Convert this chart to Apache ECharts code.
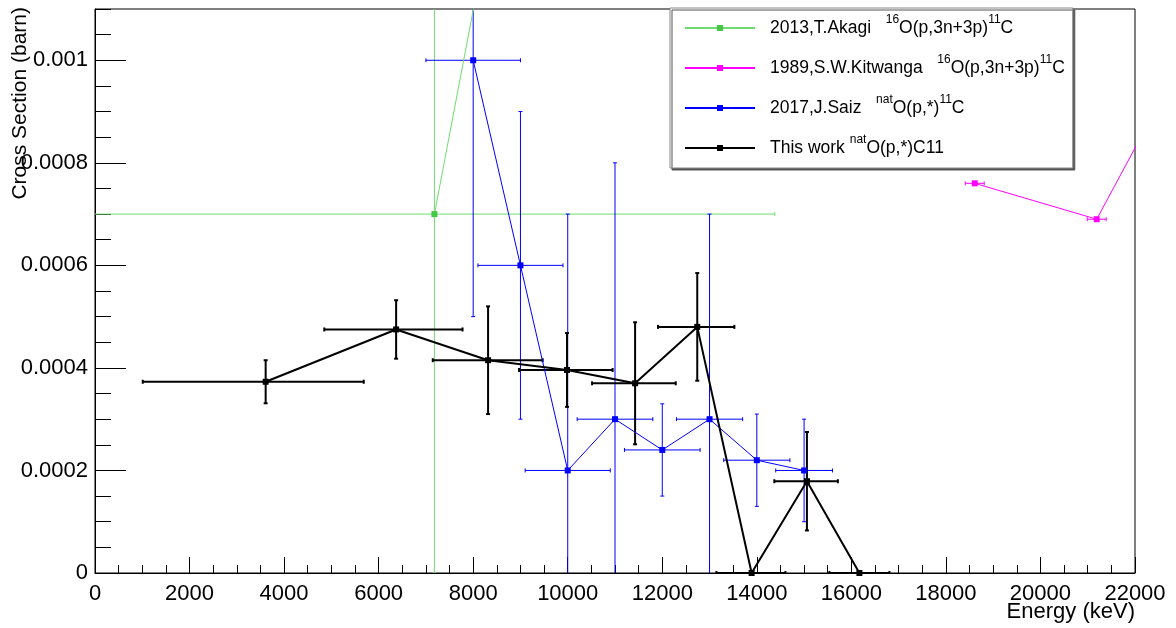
<!DOCTYPE html>
<html>
<head>
<meta charset="utf-8">
<script src="https://cdn.jsdelivr.net/npm/echarts@6/dist/echarts.min.js"></script>
<style>
  html, body { margin: 0; padding: 0; background: #fff; }
  #chart { width: 1176px; height: 628px; }
</style>
</head>
<body>
<div id="chart"></div>
<script>
// ---- Data ----
const akagiE       = [7180, 8500];
const akagiCS      = [0.0007, 0.00134];
const akagiEErrLo  = [7200, 0];
const akagiEErrHi  = [7200, 0];
const akagiCSErr   = [0.0007, 0];

const kitE       = [18610, 21190, 23000];
const kitCS      = [0.00076, 0.00069, 0.001];
const kitEErrLo  = [200, 200, 0];
const kitEErrHi  = [200, 200, 0];
const kitCSErr   = [0, 0, 0];

const saizE      = [8000, 9000, 10000, 11000, 12000, 13000, 14000, 15000];
const saizCS     = [0.001, 0.0006, 0.0002, 0.0003, 0.00024, 0.0003, 0.00022, 0.0002];
const saizEErrLo = [1000, 900, 900, 800, 800, 700, 700, 600];
const saizEErrHi = [1000, 900, 900, 800, 800, 700, 700, 600];
const saizCSErr  = [0.0005, 0.0003, 0.0005, 0.0005, 0.00009, 0.0004, 0.00009, 0.0001];

const thisE      = [3610, 6370, 8315, 9985, 11425, 12740, 13890, 15060, 16170];
const thisCS     = [0.000373, 0.000475, 0.000415, 0.000396, 0.00037, 0.00048, 0, 0.000179, 0];
const thisEErrLo = [2600, 1520, 1170, 1015, 910, 830, 745, 690, 635];
const thisEErrHi = [2075, 1405, 1155, 965, 860, 785, 715, 655, 635];
const thisCSErr  = [0.000042, 0.000057, 0.000105, 0.000072, 0.000119, 0.000105, 0, 0.000096, 0];

const seriesNames = ['2013,T.Akagi', '1989,S.W.Kitwanga', '2017,J.Saiz', 'This work'];
const legendLabels = [
  '2013,T.Akagi   {sup|16}O(p,3n+3p){sup|11}C',
  '1989,S.W.Kitwanga   {sup|16}O(p,3n+3p){sup|11}C',
  '2017,J.Saiz   {sup|nat}O(p,*){sup|11}C',
  'This work {sup|nat}O(p,*)C11'
];

const xTickLabels = ['0','2000','4000','6000','8000','10000','12000','14000','16000','18000','20000','22000'];
const yTickLabels = ['0','0.0002','0.0004','0.0006','0.0008','0.001'];
const xTitle = 'Energy (keV)';
const yTitle = 'Cross Section (barn)';

// ---- Helpers ----
function zip(xs, ys) { return xs.map((x, i) => [x, ys[i]]); }
function zipErr(xs, ys, exl, exh, eys) { return xs.map((x, i) => [x, ys[i], exl[i], exh[i], eys[i]]); }

function errRender(color, lw, cap) {
  return function (params, api) {
    const x = api.value(0), y = api.value(1), exl = api.value(2), exh = api.value(3), ey = api.value(4);
    const c = api.coord([x, y]);
    const children = [];
    const st = { stroke: color, lineWidth: lw };
    if (exl > 0 || exh > 0) {
      const l = api.coord([x - exl, y]), r = api.coord([x + exh, y]);
      children.push({ type: 'line', shape: { x1: l[0], y1: c[1], x2: r[0], y2: c[1] }, style: st });
      children.push({ type: 'line', shape: { x1: l[0], y1: c[1] - cap, x2: l[0], y2: c[1] + cap }, style: st });
      children.push({ type: 'line', shape: { x1: r[0], y1: c[1] - cap, x2: r[0], y2: c[1] + cap }, style: st });
    }
    if (ey > 0) {
      const t = api.coord([x, y + ey]), b = api.coord([x, y - ey]);
      children.push({ type: 'line', shape: { x1: c[0], y1: t[1], x2: c[0], y2: b[1] }, style: st });
      children.push({ type: 'line', shape: { x1: c[0] - cap, y1: t[1], x2: c[0] + cap, y2: t[1] }, style: st });
      children.push({ type: 'line', shape: { x1: c[0] - cap, y1: b[1], x2: c[0] + cap, y2: b[1] }, style: st });
    }
    return { type: 'group', children: children, silent: true };
  };
}

function errSeries(name, data, color, lw, cap) {
  return {
    name: name + ' err', type: 'custom', clip: true, silent: true,
    xAxisIndex: 0, yAxisIndex: 0,
    encode: { x: 0, y: 1 },
    renderItem: errRender(color, lw, cap),
    data: data
  };
}
function lineSeries(name, data, lineColor, markerColor, lw) {
  return {
    name: name, type: 'line', clip: true, silent: true,
    xAxisIndex: 0, yAxisIndex: 0,
    symbol: 'rect', symbolSize: 6, showAllSymbol: true,
    lineStyle: { color: lineColor, width: lw },
    itemStyle: { color: markerColor },
    data: data
  };
}

function findLabel(labels, v) {
  for (const s of labels) {
    const n = parseFloat(s);
    if (Math.abs(n - v) <= Math.max(1e-12, Math.abs(n) * 1e-6)) return s;
  }
  return '';
}

const FONT = 'Liberation Sans';
const green = '#6fdc6f', greenMk = '#44c844';
const magenta = '#ff00ff';
const blue = '#0000ff';
const black = '#000000';

const chart = echarts.init(document.getElementById('chart'), null, { renderer: 'canvas' });
chart.setOption({
  animation: false,
  backgroundColor: '#ffffff',
  textStyle: { fontFamily: FONT },
  grid: { left: 95, right: 41, top: 9, bottom: 55, show: true, borderColor: '#000', borderWidth: 1, containLabel: false },
  xAxis: [{
    type: 'value', min: 0, max: 22000, interval: 2000,
    axisLine: { show: true, onZero: false, lineStyle: { color: '#000', width: 1 } },
    axisTick: { show: true, inside: true, length: 16, lineStyle: { color: '#000', width: 1 } },
    minorTick: { show: true, splitNumber: 4, length: 8, lineStyle: { color: '#000', width: 1 } },
    splitLine: { show: false },
    axisLabel: { fontFamily: FONT, fontSize: 22, color: '#000', margin: 10,
      formatter: v => findLabel(xTickLabels, v) }
  }],
  yAxis: [{
    type: 'value', min: 0, max: 0.0011, interval: 0.0002,
    axisLine: { show: true, onZero: false, lineStyle: { color: '#000', width: 1 } },
    axisTick: { show: true, inside: true, length: 31, lineStyle: { color: '#000', width: 1 } },
    splitLine: { show: false },
    axisLabel: { fontFamily: FONT, fontSize: 22, color: '#000', margin: 7, showMaxLabel: false,
      formatter: v => findLabel(yTickLabels, v) }
  }, {
    type: 'value', min: 0, max: 0.0011, interval: 0.00005, position: 'left',
    axisLine: { show: false },
    axisTick: { show: true, inside: true, length: 16, lineStyle: { color: '#000', width: 1 } },
    splitLine: { show: false },
    axisLabel: { show: false }
  }],
  legend: {
    data: seriesNames,
    orient: 'vertical', left: 670, top: 8,
    padding: [6, 8, 6, 14],
    itemWidth: 70, itemHeight: 7.5, itemGap: 12,
    backgroundColor: '#fff', borderColor: '#888', borderWidth: 1,
    shadowColor: '#555', shadowBlur: 0, shadowOffsetX: 2, shadowOffsetY: 2,
    selectedMode: false,
    formatter: name => legendLabels[seriesNames.indexOf(name)],
    textStyle: {
      fontFamily: FONT, fontSize: 17.5, color: '#000', lineHeight: 28, padding: [0, 0, 0, 10],
      rich: { sup: { fontFamily: FONT, fontSize: 12, lineHeight: 12, verticalAlign: 'top', color: '#000' } }
    }
  },
  graphic: [
    { type: 'text', x: 20, y: 7, rotation: Math.PI / 2, z: 100,
      style: { text: yTitle, fontFamily: FONT, fontSize: 21, fill: '#000', align: 'right', verticalAlign: 'middle' } },
    { type: 'text', x: 1135, y: 612, z: 100,
      style: { text: xTitle, fontFamily: FONT, fontSize: 22, fill: '#000', align: 'right', verticalAlign: 'middle' } }
  ],
  series: [
    errSeries(seriesNames[0], zipErr(akagiE, akagiCS, akagiEErrLo, akagiEErrHi, akagiCSErr), green, 1, 2),
    lineSeries(seriesNames[0], zip(akagiE, akagiCS), green, greenMk, 1),
    errSeries(seriesNames[1], zipErr(kitE, kitCS, kitEErrLo, kitEErrHi, kitCSErr), magenta, 1, 2),
    lineSeries(seriesNames[1], zip(kitE, kitCS), magenta, magenta, 1),
    errSeries(seriesNames[2], zipErr(saizE, saizCS, saizEErrLo, saizEErrHi, saizCSErr), blue, 1, 2),
    lineSeries(seriesNames[2], zip(saizE, saizCS), blue, blue, 1),
    errSeries(seriesNames[3], zipErr(thisE, thisCS, thisEErrLo, thisEErrHi, thisCSErr), black, 2, 2),
    lineSeries(seriesNames[3], zip(thisE, thisCS), black, black, 2)
  ]
});
</script>
</body>
</html>
